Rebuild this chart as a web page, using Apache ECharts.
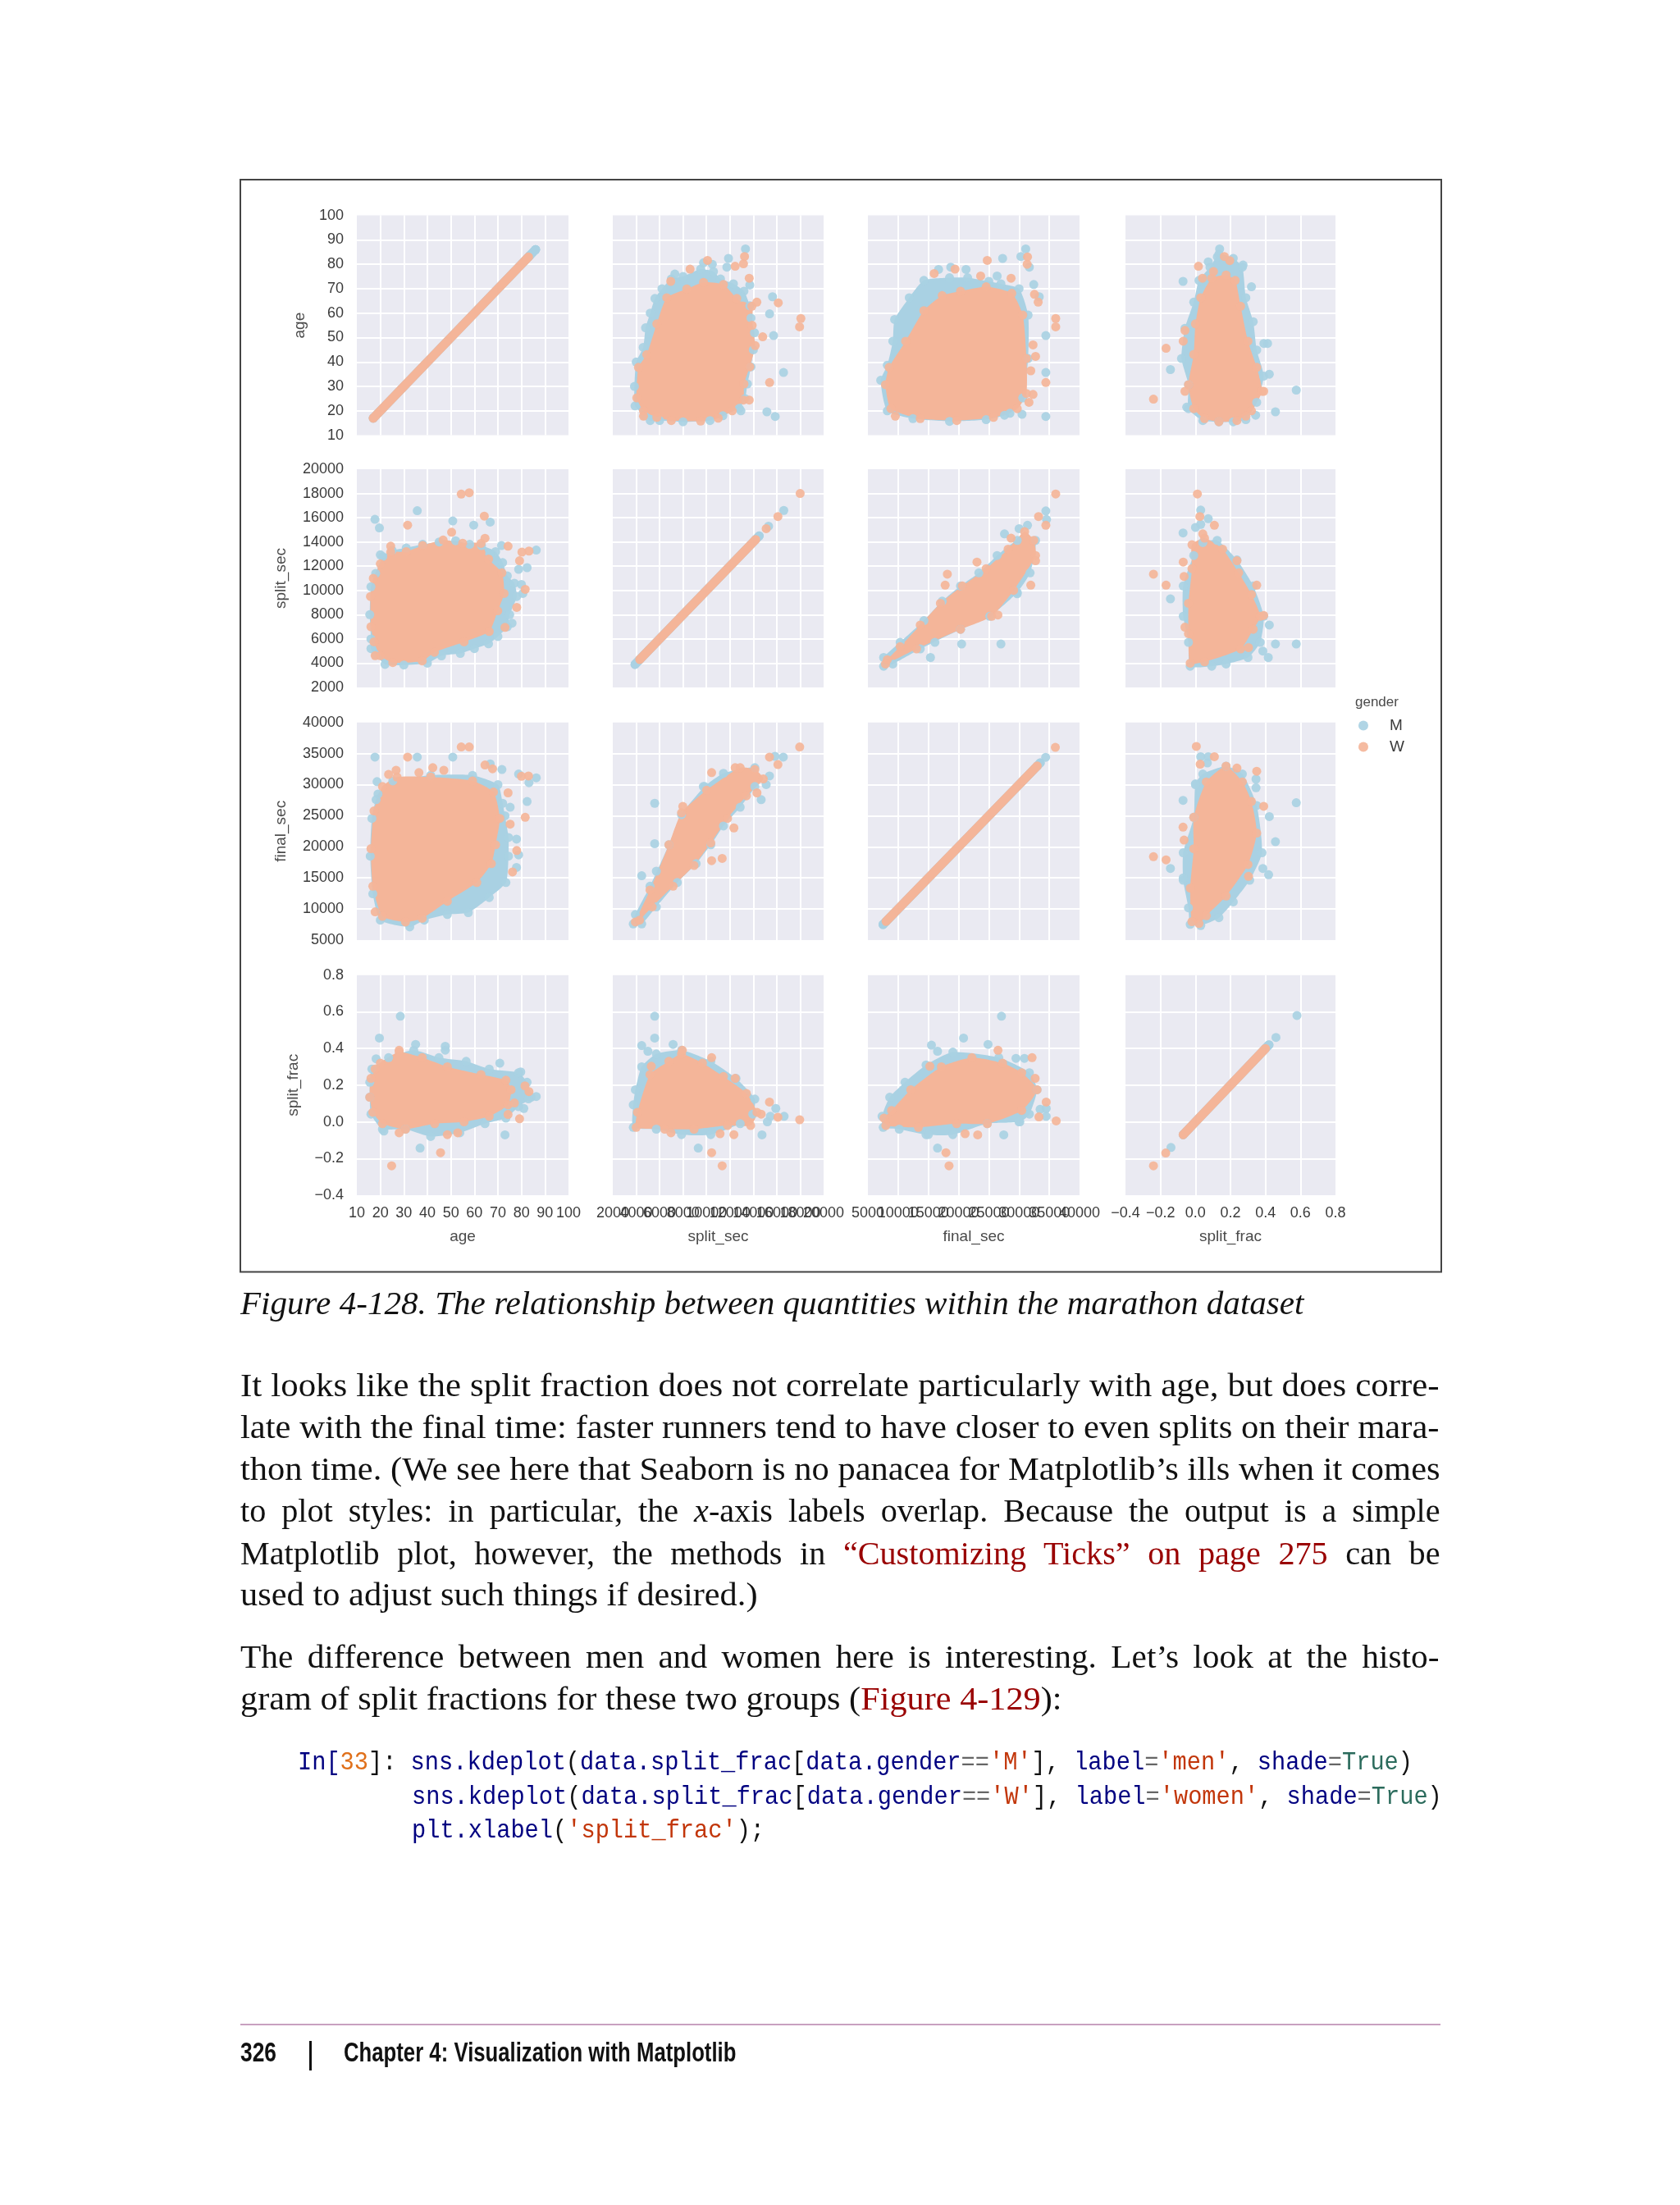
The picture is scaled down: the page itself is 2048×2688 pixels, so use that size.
<!DOCTYPE html>
<html><head><meta charset="utf-8">
<style>
html,body{margin:0;padding:0;background:#fff;width:2048px;height:2688px;overflow:hidden}
#chart{position:absolute;left:0;top:0;width:2048px;height:2688px;filter:blur(0.6px)}
.ln{position:absolute;transform-origin:0 0;white-space:normal;color:#111}
.link{color:#990000}.n{color:#000080}.o{color:#e0701a}.s{color:#c2360a}.k{color:#2b6b5c}.g{color:#666}
</style>
<script src="https://cdn.jsdelivr.net/npm/echarts@6/dist/echarts.min.js"></script>
</head><body>
<div id="chart"></div>
<script>
// ---- variables and their axes
const variables = ['age','split_sec','final_sec','split_frac'];
const axisMin = [10,2000,5000,-0.4];
const axisMax = [100,20000,40000,0.8];
const axisStep = [10,2000,5000,0.2];
const genders = ['M','W'];

// ---- age / split_sec
const ageSplitEdgeM = [[16,6000],[15.5,8000],[16,10300],[18,11400],[21,12800],[25,13300],[31,13500],[38,13800],[45,14000],[52,14100],[58,13800],[63,13700],[69,13200],[72,12300],[74,11200],[77,10600],[78,9500],[75,8000],[74,7000],[70,6200],[66,5600],[60,5200],[54,4800],[46,4600],[40,4000],[30,3850],[22,3900],[18,4700],[16,5200]];
const ageSplitEdgeW = [[16,7000],[15.8,9500],[17,11000],[20,12200],[24.4,13160],[31,13200],[38,13700],[46.7,14160],[55,13900],[62.8,13880],[66,12590],[71.7,11450],[72.6,9750],[69.9,8320],[66.3,6610],[55.6,5760],[43,4900],[37.8,4190],[25.3,4050],[20,4620],[17.3,5760]];
const ageSplitOutM = [[17.7,15870],[19.6,15160],[35.7,16580],[50.8,15730],[59.7,15390],[66.7,15640],[20,12940],[86.3,13330],[82.4,11880],[78.8,11740],[80.6,9750],[80,10500],[71.5,13700],[66.5,13000],[76,7300]];
const ageSplitOutW = [[54.4,17950],[57.8,18060],[31.6,15390],[64.2,16130],[50.3,14800],[64.5,14300],[74.3,13650],[80.2,13160],[83.2,13250],[79.2,12450],[81.6,10090],[78,8600],[73,6950],[17.8,4620],[24.4,13650]];

// ---- age / final_sec
const ageFinalEdgeM = [[16.4,24560],[15.7,18500],[16.8,12450],[20,8210],[32.5,7120],[38.7,8210],[48.5,9120],[57.4,9420],[66.3,11840],[73.4,14260],[74.5,18500],[74.5,21500],[73,25000],[72,27000],[70,30000],[59.2,31500],[41.4,31500],[25.3,30610],[19,28490]];
const ageFinalEdgeW = [[16,19700],[17.3,25770],[20.9,29700],[27.1,31220],[41.4,31220],[59.2,30610],[68.1,28800],[70.8,24560],[69,20320],[67.2,17290],[61,14260],[48.5,11240],[37.8,8510],[30.7,7910],[20.9,8810],[16.8,13660]];
const ageFinalOutM = [[17.7,34430],[35.7,34430],[50.8,34430],[18.6,30490],[66.7,33340],[71.7,32430],[78.8,31700],[86.3,31100],[83.2,30300],[82.4,27280],[75.2,26370],[77.9,21230],[78.8,18700],[77.9,16690],[18.2,27590]];
const ageFinalOutW = [[54.4,36060],[57.8,36060],[31.6,34430],[64.5,33160],[67.7,32550],[26.7,32310],[23.5,31640],[47,32310],[42.3,32730],[36.4,31940],[80,31340],[83,31400],[81.6,24740],[74.3,28680],[75.2,23650],[76.2,15960],[78,19410],[17.8,9540]];

// ---- age / split_frac
const ageFracEdgeM = [[15.5,0.134],[16,0.042],[20.9,-0.04],[30.7,-0.04],[41.4,-0.08],[53.8,-0.06],[64.5,-0.01],[73.4,0.02],[78.8,0.083],[84.1,0.134],[82.4,0.216],[78.8,0.268],[66.3,0.288],[56.5,0.33],[44.9,0.35],[34.2,0.39],[23.5,0.35],[16.4,0.288],[15.5,0.216]];
const ageFracEdgeW = [[15.5,0.134],[16.8,0.052],[20.9,-0.01],[30.7,-0.04],[43.1,-0.01],[55.6,0],[66.3,0.03],[74.3,0.093],[75.6,0.175],[73.4,0.227],[62.8,0.258],[48.5,0.3],[37.8,0.35],[28,0.38],[20,0.32],[16,0.237]];
const ageFracOutM = [[28.5,0.576],[19.6,0.457],[18.2,0.344],[35,0.422],[47.6,0.412],[47.6,0.391],[36.9,-0.143],[73,-0.071],[70.8,0.32],[79.7,0.272],[81,0.073],[86.3,0.138],[83,0.125],[21.5,-0.05]];
const ageFracOutW = [[24.8,-0.24],[45.6,-0.168],[28,-0.06],[48.5,-0.07],[52.9,-0.06],[28,0.39],[17.8,0.288],[79.2,0.017],[77,0.103],[74.3,0.04],[81.5,0.196],[83.2,0.165]];

// ---- split_sec / final_sec
const splitFinalEdgeM = [[3750,7600],[3930,9120],[5180,13660],[6790,20320],[7870,25160],[9840,29700],[11450,31820],[14130,32730],[14130,29700],[12880,26370],[11450,23350],[10370,20320],[9120,17290],[7510,14260],[5720,10330],[4470,7600]];
const splitFinalEdgeW = [[3930,7910],[5180,13050],[6790,20320],[7870,25470],[10010,29100],[12880,32730],[14130,32430],[14850,30920],[13410,28190],[11800,24560],[10370,20620],[8940,16990],[7150,13660],[5360,10330],[4290,8210]];
const splitFinalOutM = [[5580,27000],[5580,20500],[4470,15350],[5720,16080],[9730,29700],[15850,34550],[16560,34430],[14670,27590],[15380,31400],[15100,30010]];
const splitFinalOutW = [[17960,36060],[15380,34430],[16100,33220],[10440,31940],[12450,32730],[7980,26500],[10440,17780],[11340,18140],[12340,23040],[14310,28680]];

// ---- split_sec / split_frac
const splitFracEdgeM = [[3750,0.093],[3750,-0.03],[5720,-0.04],[7870,-0.07],[10370,-0.07],[12880,-0.01],[13950,0.042],[14130,0.124],[12520,0.237],[10370,0.33],[7870,0.39],[5720,0.37],[4470,0.3],[3930,0.175]];
const splitFracEdgeW = [[4000,-0.03],[4110,0.052],[5180,0.258],[6790,0.33],[7870,0.37],[9660,0.32],[11450,0.247],[13410,0.155],[14310,0.052],[13770,-0.02],[11800,-0.02],[8940,-0.04],[6440,-0.04]];
const splitFracOutM = [[5580,0.576],[5580,0.457],[4470,0.416],[5000,0.385],[7150,0.422],[9300,-0.143],[14740,-0.071],[15920,0.073],[15450,0.03],[16630,0.03],[15200,0]];
const splitFracOutW = [[11340,-0.24],[10440,-0.168],[12340,-0.07],[11160,-0.065],[6970,-0.06],[7940,0.39],[10440,0.35],[5290,0.303],[15380,0.108],[17960,0.011],[16100,0.025],[14670,0.042],[12450,0.237]];

// ---- final_sec / split_frac
const finalFracEdgeM = [[7340,0.03],[7530,-0.03],[10190,-0.04],[14620,-0.07],[19050,-0.07],[24750,-0.01],[30130,0],[31710,0.042],[32970,0.175],[31710,0.268],[26650,0.35],[19050,0.38],[14620,0.31],[11140,0.216],[8610,0.134]];
const finalFracEdgeW = [[7660,0.02],[7970,-0.02],[13350,-0.03],[19680,-0.01],[24750,-0.01],[30440,0.062],[32970,0.175],[30440,0.268],[27280,0.32],[22210,0.35],[17150,0.3],[12090,0.175],[8920,0.062]];
const finalFracOutM = [[27090,0.576],[20820,0.457],[15510,0.418],[16520,0.385],[24870,0.422],[16520,-0.143],[27470,-0.071],[29490,0.346],[30890,0.346],[33480,0.068],[34490,0.073],[34490,0.03],[30000,0],[15000,-0.07]];
const finalFracOutW = [[18420,-0.24],[17910,-0.168],[21080,-0.065],[23160,-0.071],[36140,0.005],[34490,0.108],[32150,0.35],[26520,0.39],[15250,0.303],[33290,0.027],[32660,0.237]];

// ---- diagonals: unbroken run [low, high] and separate points
const diagRunM = [[17,86],[3900,14500],[7500,33500],[-0.07,0.42]];
const diagRunW = [[17,83],[4300,14200],[8000,33000],[-0.07,0.4]];
const diagDotsM = [[86],[15300,16600],[34400],[-0.14,0.46,0.58]];
const diagDotsW = [[83.5],[15100,16100,18000],[36000],[-0.24,-0.17]];

const pairs = {
  '0|1':{edge:[ageSplitEdgeM,ageSplitEdgeW],out:[ageSplitOutM,ageSplitOutW]},
  '0|2':{edge:[ageFinalEdgeM,ageFinalEdgeW],out:[ageFinalOutM,ageFinalOutW]},
  '0|3':{edge:[ageFracEdgeM,ageFracEdgeW],out:[ageFracOutM,ageFracOutW]},
  '1|2':{edge:[splitFinalEdgeM,splitFinalEdgeW],out:[splitFinalOutM,splitFinalOutW]},
  '1|3':{edge:[splitFracEdgeM,splitFracEdgeW],out:[splitFracOutM,splitFracOutW]},
  '2|3':{edge:[finalFracEdgeM,finalFracEdgeW],out:[finalFracOutM,finalFracOutW]}
};

// ---- layout and style
const colBox = [[435,258],[747,257],[1058,258],[1372,256]];
const rowBox = [[262.6,268],[572,266],[880.7,265.3],[1188.7,268.3]];
const yNameGap = [60,83,83,68];
const colors = ['#A9D1E3','#F4B599'];
const inkColor = '#3a3a3a';
const sans = '"Liberation Sans", Arial, sans-serif';

const grids=[],xAxes=[],yAxes=[],series=[];
const fmt = (k)=>(v)=> k===3 ? v.toFixed(1).replace('-','\u2212') : String(v);
const isEnd = (k,v)=> v===axisMin[k]||v===axisMax[k];
function axis(k,idx,showLabel,name,nameGap,isY,formatter){
  return {type:'value',gridIndex:idx,min:axisMin[k],max:axisMax[k],interval:axisStep[k],
    axisLine:{show:false},axisTick:{show:false},
    splitLine:{show:true,showMinLine:false,showMaxLine:false,lineStyle:{color:'#fff',width:2}},
    axisLabel:{show:showLabel,color:inkColor,fontFamily:sans,fontSize:18,margin:isY?16:13,formatter:formatter||fmt(k),hideOverlap:false,showMinLabel:true,showMaxLabel:true},
    name:name,nameLocation:'middle',nameGap:nameGap,
    nameTextStyle:{color:'#4a4a4a',fontFamily:sans,fontSize:19},silent:true};
}
const fillItem=(fill)=>(params,api)=>{
  if(params.context.done) return null;
  params.context.done=true;
  const pts=[];
  for(let n=0;n<params.dataInsideLength;n++){ pts.push(api.coord([api.value(0,n),api.value(1,n)])); }
  return {type:'polygon',shape:{points:pts,smooth:0.2},style:{fill:fill}};
};
function scatter(name,g,idx,data){
  series.push({type:'scatter',name:name,xAxisIndex:idx,yAxisIndex:idx,data:data,symbolSize:11,
    itemStyle:{color:colors[g],opacity:0.92},silent:true,animation:false,clip:false,large:false});
}
for(let r=0;r<4;r++){for(let c=0;c<4;c++){
  const idx=grids.length;
  grids.push({left:colBox[c][0],top:rowBox[r][0],width:colBox[c][1],height:rowBox[r][1],show:true,backgroundColor:'#EAEAF2',borderWidth:0});
  // The two crowded columns leave their end labels to a second axis so that every label is kept, overlapping as in the original.
  const crowded=(c===1||c===2);
  xAxes.push(axis(c,idx,r===3,r===3?variables[c]:'',41,false,crowded?(v)=>isEnd(c,v)?'':String(v):null));
  yAxes.push(axis(r,idx,c===0,c===0?variables[r]:'',yNameGap[r],true));
  genders.forEach((gname,g)=>{
    if(r===c){
      const run=(g===0?diagRunM:diagRunW)[r], dots=(g===0?diagDotsM:diagDotsW)[r];
      series.push({type:'line',xAxisIndex:idx,yAxisIndex:idx,name:gname+' run',data:run.map(v=>[v,v]),symbol:'none',
        lineStyle:{color:colors[g],width:11,cap:'round'},silent:true,animation:false});
      scatter(gname,g,idx,run.concat(dots).map(v=>[v,v]));
    } else {
      const key=Math.min(r,c)+'|'+Math.max(r,c), swap=r<c;
      const tr=(a)=>swap?a.map(p=>[p[1],p[0]]):a;
      const edge=tr(pairs[key].edge[g]), out=tr(pairs[key].out[g]);
      series.push({type:'custom',name:gname+' body',coordinateSystem:'cartesian2d',xAxisIndex:idx,yAxisIndex:idx,
        data:edge,encode:{x:0,y:1},renderItem:fillItem(colors[g]),silent:true,animation:false,clip:false});
      scatter(gname,g,idx,edge.concat(out));
    }
  });
}}
[1,2].forEach(c=>{
  const a=axis(c,12+c,true,'',41,false,(v)=>isEnd(c,v)?String(v):'');
  a.position='bottom';
  a.splitLine={show:false};
  xAxes.push(a);
});

const chart=echarts.init(document.getElementById('chart'),null,{renderer:'canvas',width:2048,height:2688,devicePixelRatio:1});
chart.setOption({
  animation:false,backgroundColor:'#fff',
  grid:grids,xAxis:xAxes,yAxis:yAxes,series:series,
  legend:{show:true,orient:'vertical',left:1651,top:870,itemWidth:12,itemHeight:12,itemGap:7,selectedMode:false,
    icon:'circle',data:genders,textStyle:{color:inkColor,fontFamily:sans,fontSize:19,padding:[0,0,0,21]}},
  graphic:[
    {type:'rect',z:-1,silent:true,shape:{x:293,y:219,width:1464,height:1331.5},style:{fill:'#fff',stroke:'#444',lineWidth:2}},
    {type:'text',silent:true,left:1652,top:848,style:{text:'gender',fill:'#4a4a4a',font:'17px '+sans}},
    {type:'rect',silent:true,shape:{x:293,y:2467,width:1463,height:2},style:{fill:'#c8a0c0'}},
    {type:'rect',silent:true,shape:{x:377,y:2488,width:3,height:36},style:{fill:'#111'}}
  ]
});

// ---- page text around the figure
const serif='"Liberation Serif", serif';
const prose=[
 {h:'<i>Figure 4-128. The relationship between quantities within the marathon dataset</i>',x:293,b:1602,r:1589,m:1.1},
 {h:'It looks like the split fraction does not correlate particularly with age, but does corre-',x:293,b:1702,r:1754,m:1.1},
 {h:'late with the final time: faster runners tend to have closer to even splits on their mara-',x:293,b:1753,r:1754,m:1.1},
 {h:'thon time. (We see here that Seaborn is no panacea for Matplotlib\u2019s ills when it comes',x:293,b:1804,r:1755,m:1.1},
 {h:'to plot styles: in particular, the <i>x</i>-axis labels overlap. Because the output is a simple',x:293,b:1855,r:1755,m:1.03},
 {h:'Matplotlib plot, however, the methods in <span class="link">\u201cCustomizing Ticks\u201d on page 275</span> can be',x:293,b:1907,r:1755,m:1.03},
 {h:'used to adjust such things if desired.)',x:293,b:1957,r:923,m:1.1},
 {h:'The difference between men and women here is interesting. Let\u2019s look at the histo-',x:293,b:2033,r:1754,m:1.06},
 {h:'gram of split fractions for these two groups (<span class="link">Figure 4-129</span>):',x:293,b:2084,r:1294,m:1.1}
];
function place(el,baseline){
  const m=document.createElement('span');
  m.style.cssText='display:inline-block;width:0;height:0';
  el.insertBefore(m,el.firstChild);
  const d=baseline-m.getBoundingClientRect().bottom;
  el.style.top=(parseFloat(el.style.top)+d)+'px';
  el.removeChild(m);
}
function addLine(o,font,maxScale){
  const el=document.createElement('div');
  el.className='ln';
  el.style.cssText='left:'+o.x+'px;top:0px;font:'+font+';white-space:nowrap;';
  el.innerHTML=o.h;
  document.body.appendChild(el);
  const nat=el.getBoundingClientRect().width, target=o.r-o.x;
  const s=Math.min(maxScale,target/nat);
  el.style.whiteSpace='normal';
  el.style.width=(target/s+0.5)+'px';
  el.style.textAlignLast='justify';
  el.style.transform='scaleX('+s+')';
  place(el,o.b);
}
prose.forEach(o=>addLine(o,'39px '+serif,o.m));
const codeScale=17.2/19.2;
function addCode(x,b,h){
  const el=document.createElement('div');
  el.className='ln';
  el.style.cssText='left:'+x+'px;top:0px;white-space:pre;color:#111;font:32px "Liberation Mono",monospace;transform:scaleX('+codeScale+')';
  el.innerHTML=h;
  document.body.appendChild(el);
  place(el,b);
}
addCode(363,2157,'<span class="n">In[</span><span class="o">33</span>]: <span class="n">sns.kdeplot</span>(<span class="n">data.split_frac</span>[<span class="n">data.gender</span><span class="g">==</span><span class="s">\'M\'</span>], <span class="n">label</span><span class="g">=</span><span class="s">\'men\'</span>, <span class="n">shade</span><span class="g">=</span><span class="k">True</span>)');
addCode(502,2198.5,'<span class="n">sns.kdeplot</span>(<span class="n">data.split_frac</span>[<span class="n">data.gender</span><span class="g">==</span><span class="s">\'W\'</span>], <span class="n">label</span><span class="g">=</span><span class="s">\'women\'</span>, <span class="n">shade</span><span class="g">=</span><span class="k">True</span>)');
addCode(502,2239.5,'<span class="n">plt.xlabel</span>(<span class="s">\'split_frac\'</span>);');
addLine({h:'<b>326</b>',x:293,b:2513,r:337},'34px "Liberation Sans",sans-serif',0.84);
addLine({h:'<b>Chapter 4: Visualization with Matplotlib</b>',x:419,b:2513,r:897},'34px "Liberation Sans",sans-serif',0.8);
</script>
</body></html>
